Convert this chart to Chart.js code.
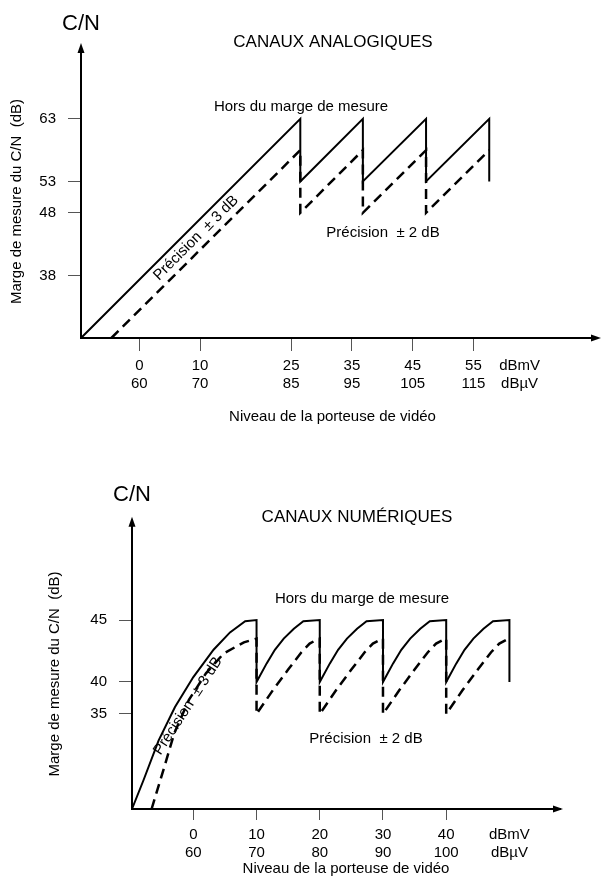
<!DOCTYPE html>
<html>
<head>
<meta charset="utf-8">
<script src="https://cdn.jsdelivr.net/npm/chart.js@4/dist/chart.umd.min.js"></script>
<style>
  html, body { margin: 0; padding: 0; background: #fff; }
  #wrap { position: relative; width: 602px; height: 886px; }
  canvas { position: absolute; left: 0; }
  #analog { top: 0; }
  #digital { top: 443px; }
</style>
</head>
<body>
<div id="wrap">
  <canvas id="analog" width="602" height="443"></canvas>
  <canvas id="digital" width="602" height="443"></canvas>
</div>
<script>
// ---------- Canaux analogiques ----------
const anaLevelDbmv = [0, 10, 25, 35, 45, 55];
const anaLevelDbuv = [60, 70, 85, 95, 105, 115];
const anaMarginTicks = [38, 48, 53, 63];
const anaUnitTick = 62.6;            // where the unit caption sits on the level axis

// upper limit (solid) and lower limit (dashed) of the measurable C/N
const anaSolidX = [-9.6, 26.5, 26.5, 36.8, 36.8, 47.2, 47.2, 57.6, 57.6];
const anaSolidY = [28, 63, 53, 63, 53, 63, 53, 63, 53];
const anaDashX  = [-4.6, 26.5, 26.5, 36.8, 36.8, 47.2, 47.2, 57.6];
const anaDashY  = [28, 58, 48, 58, 48, 58, 48, 58];

// ---------- Canaux numériques ----------
const numLevelDbmv = [0, 10, 20, 30, 40];
const numLevelDbuv = [60, 70, 80, 90, 100];
const numMarginTicks = [35, 40, 45];
const numUnitTick = 50;

const numSolidX = [-9.7, -7.9, -5.5, -2.9, 0, 3.2, 5.8, 8.2, 10, 10,
                   11.6, 12.9, 14.3, 15.9, 17.4, 20, 20,
                   21.6, 22.9, 24.3, 25.9, 27.4, 30, 30,
                   31.6, 32.9, 34.3, 35.9, 37.4, 40, 40,
                   41.6, 42.9, 44.3, 45.9, 47.4, 50, 50];
const numSolidY = [20, 24.5, 30.8, 36.1, 40.4, 42.6, 44.0, 44.9, 45, 40,
                   41.5, 42.6, 43.5, 44.3, 44.9, 45, 40,
                   41.5, 42.6, 43.5, 44.3, 44.9, 45, 40,
                   41.5, 42.6, 43.5, 44.3, 44.9, 45, 40,
                   41.5, 42.6, 43.5, 44.3, 44.9, 45, 40];
const numDashX = [-6.6, -4.6, -3.0, -0.7, 2.0, 4.8, 8.0, 10, 10,
                  12.6, 15.0, 17.1, 18.4, 19.5, 20, 20,
                  22.6, 25.0, 27.1, 28.4, 29.5, 30, 30,
                  32.6, 35.0, 37.1, 38.4, 39.5, 40, 40,
                  42.6, 45.0, 47.1, 48.4, 49.5, 50];
const numDashY = [20, 26.6, 32, 37.2, 40.7, 42.3, 43.2, 43.5, 35,
                  38.75, 41.0, 42.4, 43.1, 43.4, 43.5, 35,
                  38.75, 41.0, 42.4, 43.1, 43.4, 43.5, 35,
                  38.75, 41.0, 42.4, 43.1, 43.4, 43.5, 35,
                  38.75, 41.0, 42.4, 43.1, 43.4, 43.5];

const FONT = "'Liberation Sans', Arial, Helvetica, sans-serif";
Chart.defaults.font.family = FONT;
Chart.defaults.color = '#000';

// Linear axis whose scale changes between given stops ([value, fraction of axis length]).
class BrokenLinearScale extends Chart.LinearScale {
  static id = 'brokenLinear';
  getPixelForValue(value) {
    if (value === null || value === undefined || isNaN(value)) return NaN;
    const s = this.options.stops;
    let i = 0;
    while (i < s.length - 2 && value > s[i + 1][0]) i++;
    const [v0, f0] = s[i], [v1, f1] = s[i + 1];
    return this.getPixelForDecimal(f0 + (value - v0) / (v1 - v0) * (f1 - f0));
  }
  getValueForPixel(pixel) {
    const f = this.getDecimalForPixel(pixel);
    const s = this.options.stops;
    let i = 0;
    while (i < s.length - 2 && f > s[i + 1][1]) i++;
    const [v0, f0] = s[i], [v1, f1] = s[i + 1];
    return v0 + (f - f0) / (f1 - f0) * (v1 - v0);
  }
}
Chart.register(BrokenLinearScale);

const points = (xs, ys) => xs.map((x, i) => ({ x, y: ys[i] }));

// axis lines continued past the plot with an arrow head
function arrowPlugin(up, right, width) {
  return {
    id: 'axisArrows',
    afterDraw(chart) {
      const { ctx, chartArea: a } = chart;
      const L = Math.round(a.left), B = Math.round(a.bottom);
      ctx.save();
      ctx.strokeStyle = '#000';
      ctx.fillStyle = '#000';
      ctx.lineWidth = width;
      ctx.beginPath();
      ctx.moveTo(L, a.top + 1);
      ctx.lineTo(L, a.top - up + 8);
      ctx.moveTo(a.right - 1, B);
      ctx.lineTo(a.right + right - 8, B);
      ctx.stroke();
      ctx.beginPath();
      ctx.moveTo(L, a.top - up);
      ctx.lineTo(L - 3.5, a.top - up + 10);
      ctx.lineTo(L + 3.5, a.top - up + 10);
      ctx.closePath();
      ctx.fill();
      ctx.beginPath();
      ctx.moveTo(a.right + right, B);
      ctx.lineTo(a.right + right - 10, B - 3.5);
      ctx.lineTo(a.right + right - 10, B + 3.5);
      ctx.closePath();
      ctx.fill();
      ctx.restore();
    }
  };
}

// free text: headings and annotations
function notesPlugin(notes) {
  return {
    id: 'notes',
    afterDraw(chart) {
      const ctx = chart.ctx;
      ctx.save();
      ctx.fillStyle = '#000';
      notes.forEach(n => {
        ctx.save();
        ctx.font = n.size + 'px ' + FONT;
        ctx.textAlign = 'center';
        ctx.textBaseline = n.angle ? 'middle' : 'alphabetic';
        ctx.translate(n.x, n.y);
        if (n.angle) ctx.rotate(n.angle * Math.PI / 180);
        ctx.fillText(n.text, 0, 0);
        ctx.restore();
      });
      ctx.restore();
    }
  };
}

function levelAxis(min, max, dbmv, dbuv, unitAt, tickLen, titlePadBottom, height) {
  return {
    type: 'linear',
    min, max,
    bounds: 'data',
    afterBuildTicks: s => { s.ticks = dbmv.concat([unitAt]).map(v => ({ value: v })); },
    afterFit: s => { s.height = height; },
    ticks: {
      autoSkip: false,
      maxRotation: 0,
      padding: 6,
      color: '#000',
      font: { size: 15, lineHeight: 1.2 },
      callback: (v) => {
        if (v === unitAt) return ['dBmV', 'dBµV'];
        const i = dbmv.indexOf(v);
        return [String(dbmv[i]), String(dbuv[i])];
      }
    },
    grid: {
      drawOnChartArea: false,
      drawTicks: true,
      tickLength: tickLen,
      tickWidth: 1,
      lineWidth: 1,
      tickColor: c => (c.tick && c.tick.value === unitAt) ? 'rgba(0,0,0,0)' : '#555'
    },
    border: { display: true, color: '#000', width: 2 },
    title: {
      display: true,
      text: 'Niveau de la porteuse de vidéo',
      color: '#000',
      font: { size: 15, lineHeight: 1.2 },
      padding: { top: 0, bottom: titlePadBottom }
    }
  };
}

function marginAxis(extra, ticks, width, titlePadTop) {
  return Object.assign({
    afterBuildTicks: s => { s.ticks = ticks.map(v => ({ value: v })); },
    afterFit: s => { s.width = width; },
    ticks: {
      autoSkip: false,
      padding: 12,
      color: '#000',
      font: { size: 15 },
      callback: v => String(v)
    },
    grid: {
      drawOnChartArea: false,
      drawTicks: true,
      tickLength: 13,
      tickWidth: 1,
      lineWidth: 1,
      tickColor: '#555'
    },
    border: { display: true, color: '#000', width: 2 },
    title: {
      display: true,
      text: 'Marge de mesure du C/N  (dB)',
      color: '#000',
      font: { size: 15, lineHeight: 1.2 },
      padding: { top: titlePadTop, bottom: 0 }
    }
  }, extra);
}

function lineSets(solidX, solidY, dashX, dashY) {
  const common = {
    borderColor: '#000',
    pointRadius: 0,
    tension: 0,
    fill: false,
    clip: false
  };
  return [
    Object.assign({ label: 'limite haute', data: points(solidX, solidY), borderWidth: 2 }, common),
    Object.assign({ label: 'limite basse', data: points(dashX, dashY), borderWidth: 2.5, borderDash: [10, 6] }, common)
  ];
}

const baseOptions = {
  responsive: false,
  animation: false,
  events: [],
  devicePixelRatio: 1,
  plugins: { legend: { display: false }, tooltip: { enabled: false } }
};

// Analog channels
new Chart(document.getElementById('analog'), {
  type: 'line',
  data: { datasets: lineSets(anaSolidX, anaSolidY, anaDashX, anaDashY) },
  options: Object.assign({}, baseOptions, {
    layout: { padding: { left: 0, top: 65, right: 18, bottom: 0 } },
    scales: {
      x: levelAxis(-9.6, 73.2, anaLevelDbmv, anaLevelDbuv, anaUnitTick, 13, 17, 105),
      y: marginAxis({ type: 'linear', min: 28, max: 71.6, bounds: 'data' }, anaMarginTicks, 81, 8)
    }
  }),
  plugins: [
    arrowPlugin(22, 17, 2),
    notesPlugin([
      { text: 'C/N', x: 81, y: 29.5, size: 22 },
      { text: 'CANAUX ANALOGIQUES', x: 333, y: 46.7, size: 17 },
      { text: 'Hors du marge de mesure', x: 301, y: 111, size: 15 },
      { text: 'Précision  ± 2 dB', x: 383, y: 236.7, size: 15 },
      { text: 'Précision  ± 3 dB', x: 196, y: 238, size: 15, angle: -45 }
    ])
  ]
});

// Digital channels
new Chart(document.getElementById('digital'), {
  type: 'line',
  data: { datasets: lineSets(numSolidX, numSolidY, numDashX, numDashY) },
  options: Object.assign({}, baseOptions, {
    layout: { padding: { left: 0, top: 96, right: 42, bottom: 0 } },
    scales: {
      x: levelAxis(-9.7, 58.0, numLevelDbmv, numLevelDbuv, numUnitTick, 11, 8, 77),
      y: marginAxis({
        type: 'brokenLinear', min: 20, max: 51.5, bounds: 'data',
        stops: [[20, 0], [35, 0.3519], [40, 0.4704], [45, 0.7], [51.5, 1]]
      }, numMarginTicks, 132, 46)
    }
  }),
  plugins: [
    arrowPlugin(22.3, 3, 2),
    notesPlugin([
      { text: 'C/N', x: 132, y: 58, size: 22 },
      { text: 'CANAUX NUMÉRIQUES', x: 357, y: 79.3, size: 17 },
      { text: 'Hors du marge de mesure', x: 362, y: 160.3, size: 15 },
      { text: 'Précision  ± 2 dB', x: 366, y: 299.5, size: 15 },
      { text: 'Précision  ± 3 dB', x: 188, y: 263, size: 15, angle: -57 }
    ])
  ]
});
</script>
</body>
</html>
